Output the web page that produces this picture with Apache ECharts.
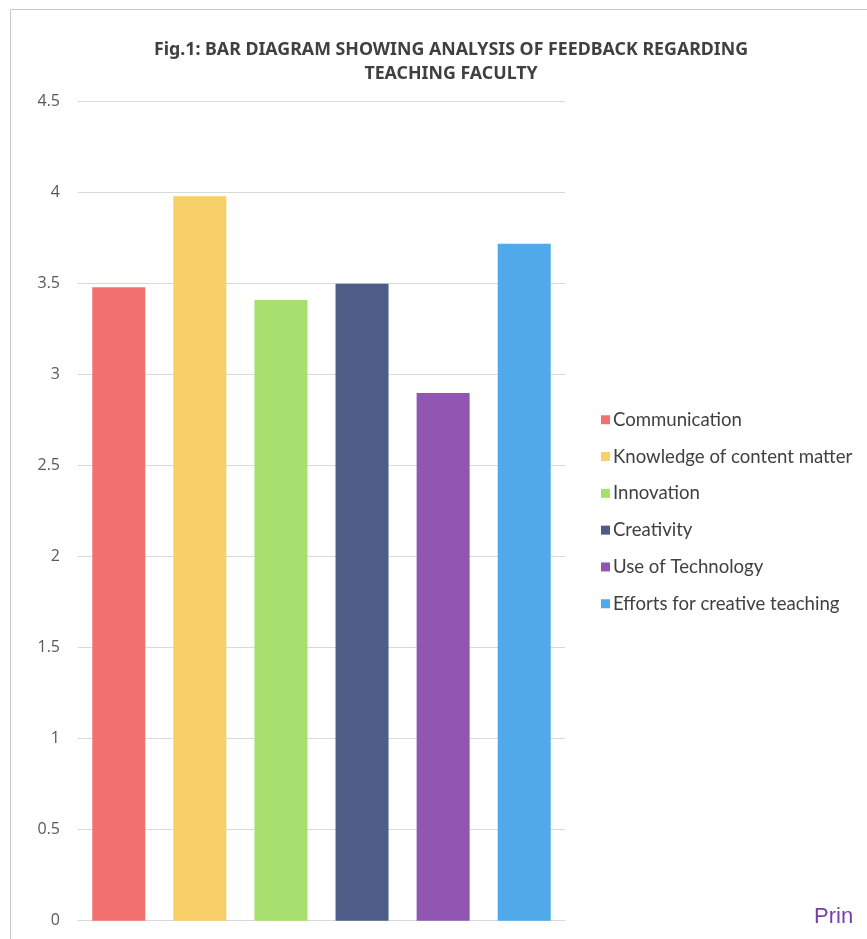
<!DOCTYPE html>
<html>
<head>
<meta charset="utf-8">
<script src="https://cdn.jsdelivr.net/npm/echarts@6/dist/echarts.min.js"></script>
<style>
html,body{margin:0;padding:0;background:#ffffff;}
#chart{width:867px;height:939px;}
</style>
</head>
<body>
<div id="chart"></div>
<script>
const titleLines = ['Fig.1: BAR DIAGRAM SHOWING ANALYSIS OF FEEDBACK REGARDING', 'TEACHING FACULTY'];
const seriesNames = ['Communication', 'Knowledge of content matter', 'Innovation', 'Creativity', 'Use of Technology', 'Efforts for creative teaching'];
const seriesValues = [3.48, 3.98, 3.41, 3.50, 2.90, 3.72];
const seriesColors = ['#f37070', '#f8d06a', '#a8e070', '#4d5d88', '#9156b1', '#50a9e8'];
const yTicks = {min: 0, max: 4.5, interval: 0.5};

const chart = echarts.init(document.getElementById('chart'));
const series = seriesNames.map((name, i) => ({
  name: name,
  type: 'bar',
  data: [seriesValues[i]],
  barWidth: 53,
  barGap: '53%',
  itemStyle: {color: seriesColors[i]}
}));

chart.setOption({
  backgroundColor: '#ffffff',
  animation: false,
  title: {
    text: titleLines.join('\n'),
    left: 446,
    textAlign: 'center',
    top: 33,
    textStyle: {fontFamily: 'Noto Sans', fontWeight: 'bold', fontSize: 17.8, color: '#404040', lineHeight: 24}
  },
  legend: {
    orient: 'vertical',
    left: 596,
    top: 404,
    itemWidth: 9,
    itemHeight: 9,
    itemGap: 15.3,
    icon: 'rect',
    textStyle: {fontFamily: 'Lato', fontSize: 18.6, color: '#404040', lineHeight: 21.5, padding: [0, 0, 0, -2]},
    data: seriesNames
  },
  grid: {left: 78, right: 302, top: 101.7, bottom: 18.3, containLabel: false},
  xAxis: {
    type: 'category',
    data: [''],
    axisLine: {lineStyle: {color: '#d9d9d9'}},
    axisTick: {show: false},
    axisLabel: {show: false}
  },
  yAxis: {
    type: 'value',
    min: yTicks.min,
    max: yTicks.max,
    interval: yTicks.interval,
    axisLine: {show: false},
    axisTick: {show: false},
    axisLabel: {fontFamily: 'Open Sans', fontSize: 16, color: '#595959', margin: 18},
    splitLine: {lineStyle: {color: '#d9d9d9'}}
  },
  graphic: [
    {type: 'rect', shape: {x: 10.5, y: 9.5, width: 900, height: 1000}, style: {fill: 'none', stroke: '#c8c8c8', lineWidth: 1}, silent: true},
    {type: 'text', left: 814, top: 906, style: {text: 'Prin', fill: '#7a3cb0', fontFamily: 'Liberation Sans Narrow, Liberation Sans', fontSize: 22}}
  ],
  series: series
});
</script>
</body>
</html>
